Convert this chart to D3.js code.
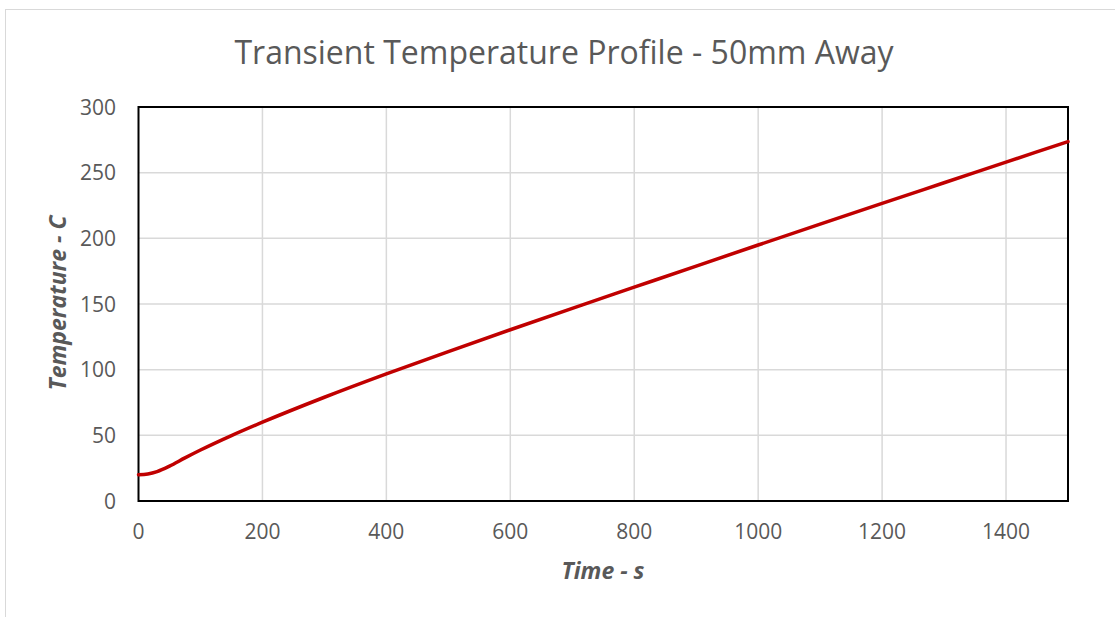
<!DOCTYPE html>
<html lang="en">
<head>
  <meta charset="UTF-8">
  <title>Transient Temperature Profile - 50mm Away</title>
  <script src="https://cdnjs.cloudflare.com/ajax/libs/d3/7.8.5/d3.min.js"></script>
  <style>
    body { margin: 0; background: white; }
    svg { display: block; font-family: "Open Sans", sans-serif; }
  </style>
</head>
<body>
  <script>
    // time in seconds, temperature in C
    var times = [0, 15, 30, 50, 75, 100, 150, 200, 300, 400, 500, 600, 700, 800, 900, 1000, 1100, 1200, 1300, 1400, 1500];
    var temps = [20, 20.6, 22.4, 26.5, 32.8, 38.8, 49.8, 60, 79, 96.8, 113.8, 130.4, 146.7, 162.8, 178.9, 194.9, 210.8, 226.6, 242.3, 258, 273.7];
    var xTicks = [0, 200, 400, 600, 800, 1000, 1200, 1400];
    var yTicks = [0, 50, 100, 150, 200, 250, 300];

    var w = 1115, h = 617;
    var pLeft = 138.5, pRight = 1068, pTop = 107, pBottom = 501;

    var svg = d3.select("body").append("svg")
      .attr("width", w)
      .attr("height", h);

    // chart area border
    svg.append("rect")
      .attr("x", 5.5).attr("y", 9.5)
      .attr("width", w + 20).attr("height", h + 20)
      .attr("fill", "white")
      .attr("stroke", "#d9d9d9")
      .attr("stroke-width", 1);

    var x = d3.scaleLinear().domain([0, 1500]).range([pLeft, pRight]);
    var y = d3.scaleLinear().domain([0, 300]).range([pBottom, pTop]);

    // gridlines
    svg.append("g").selectAll("line")
      .data(xTicks.slice(1))
      .enter().append("line")
      .attr("x1", function(d) { return x(d); })
      .attr("x2", function(d) { return x(d); })
      .attr("y1", pTop).attr("y2", pBottom)
      .attr("stroke", "#d9d9d9").attr("stroke-width", 1.5);

    svg.append("g").selectAll("line")
      .data(yTicks.slice(1))
      .enter().append("line")
      .attr("y1", function(d) { return y(d); })
      .attr("y2", function(d) { return y(d); })
      .attr("x1", pLeft).attr("x2", pRight)
      .attr("stroke", "#d9d9d9").attr("stroke-width", 1.5);

    // frame
    svg.append("rect")
      .attr("x", pLeft).attr("y", pTop)
      .attr("width", pRight - pLeft).attr("height", pBottom - pTop)
      .attr("fill", "none")
      .attr("stroke", "black")
      .attr("stroke-width", 2);

    // tick labels
    svg.append("g").selectAll("text")
      .data(xTicks)
      .enter().append("text")
      .attr("x", function(d) { return x(d); })
      .attr("y", 539)
      .attr("text-anchor", "middle")
      .attr("font-size", 21)
      .attr("fill", "#595959")
      .text(function(d) { return d; });

    svg.append("g").selectAll("text")
      .data(yTicks)
      .enter().append("text")
      .attr("x", 116)
      .attr("y", function(d) { return y(d) + 7.5; })
      .attr("text-anchor", "end")
      .attr("font-size", 21)
      .attr("fill", "#595959")
      .text(function(d) { return d; });

    // the series
    var pts = times.map(function(t, i) { return [t, temps[i]]; });
    var line = d3.line()
      .x(function(d) { return x(d[0]); })
      .y(function(d) { return y(d[1]); })
      .curve(d3.curveMonotoneX);

    svg.append("path")
      .datum(pts)
      .attr("d", line)
      .attr("fill", "none")
      .attr("stroke", "#c00000")
      .attr("stroke-width", 3.5)
      .attr("stroke-linecap", "round");

    // titles
    svg.append("text")
      .attr("x", 564).attr("y", 64)
      .attr("text-anchor", "middle")
      .attr("font-size", 32)
      .attr("fill", "#595959")
      .text("Transient Temperature Profile - 50mm Away");

    svg.append("text")
      .attr("x", 603).attr("y", 579)
      .attr("text-anchor", "middle")
      .attr("font-size", 23)
      .attr("font-weight", "bold")
      .attr("font-style", "italic")
      .attr("fill", "#595959")
      .text("Time - s");

    svg.append("text")
      .attr("transform", "translate(66,303) rotate(-90)")
      .attr("text-anchor", "middle")
      .attr("font-size", 23)
      .attr("font-weight", "bold")
      .attr("font-style", "italic")
      .attr("fill", "#595959")
      .text("Temperature - C");
  </script>
</body>
</html>
